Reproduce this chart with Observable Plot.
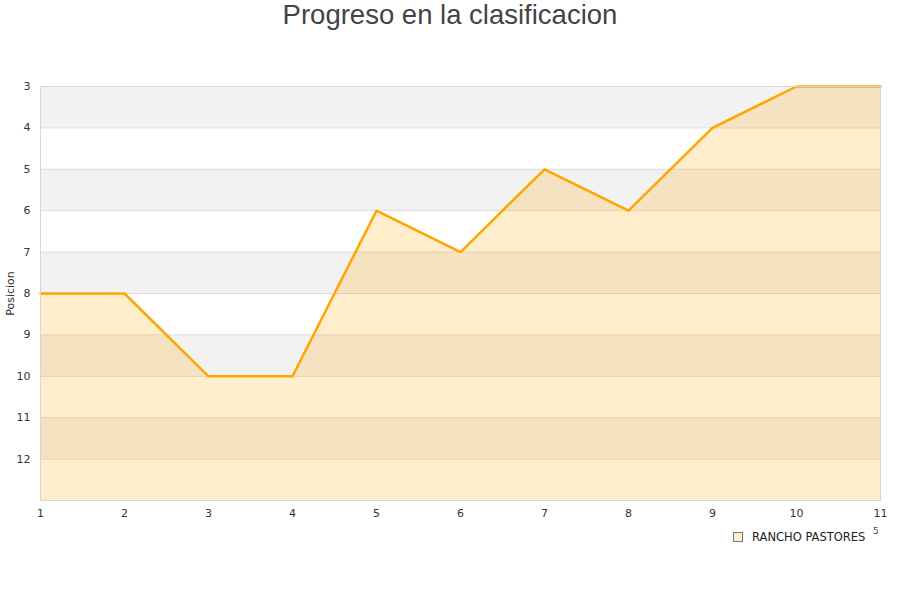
<!DOCTYPE html>
<html><head><meta charset="utf-8">
<script src="https://cdn.jsdelivr.net/npm/d3@7"></script>
<script src="https://cdn.jsdelivr.net/npm/@observablehq/plot@0.6"></script>
<style>
body{margin:0;background:#fff;font-family:"DejaVu Sans",sans-serif;}
#wrap{position:relative;width:900px;height:600px;}
#title{height:40px;line-height:30px;text-align:center;font-size:27.5px;color:#444;font-family:"Liberation Sans",Arial,sans-serif;}
#legend{position:absolute;left:733px;top:530px;font-size:11.5px;color:#222;display:flex;align-items:center;}
#legend .sw{width:8px;height:8px;border:1px solid #777;background:#FFEDCC;margin-right:9px;}
#stray{position:absolute;left:873px;top:526px;font-size:9px;color:#444;}
</style></head><body>
<div id="wrap">
<div id="title">Progreso en la clasificacion</div>
<div id="chart"></div>
<div id="legend"><div class="sw"></div><span>RANCHO PASTORES</span></div>
<div id="stray">5</div>
</div>
<script>
const jornadas = [1,2,3,4,5,6,7,8,9,10,11];
const posiciones = [8,8,10,10,6,7,5,6,4,3,3];
const yTicks = [3,4,5,6,7,8,9,10,11,12];
const gridLines = [3,4,5,6,7,8,9,10,11,12,13];
const bandStarts = [3,5,7,9,11];
const serie = "RANCHO PASTORES";

const data = jornadas.map((j,i)=>({j, p: posiciones[i]}));

const chart = Plot.plot({
  width: 900,
  height: 490,
  marginTop: 46,
  marginBottom: 30,
  marginLeft: 40,
  marginRight: 20,
  style: {fontFamily: "DejaVu Sans, sans-serif", fontSize: "11px", color: "#333"},
  x: {domain: [1,11], ticks: jornadas, tickFormat: d=>String(d)},
  y: {domain: [3,13], reverse: true, ticks: yTicks},
  marks: [
    Plot.rect(bandStarts, {x1: ()=>1, x2: ()=>11, y1: d=>d, y2: d=>d+1, fill: "#f2f2f2"}),
    Plot.ruleY(gridLines, {stroke: "#dddddd"}),
    Plot.areaY(data, {x: "j", y1: ()=>13, y2: "p", fill: "#FFA500", fillOpacity: 0.2}),
    Plot.line(data, {x: "j", y: "p", stroke: "#FFA500", strokeWidth: 2.5}),
    Plot.frame({stroke: "#d6d6d6"}),
    Plot.axisX({ticks: jornadas, tickSize: 0, tickPadding: 9, label: null, tickFormat: d=>String(d)}),
    Plot.axisY({ticks: yTicks, tickSize: 0, tickPadding: 10, label: "Posicion", labelAnchor: "center", labelArrow: "none", labelOffset: 34})
  ]
});
document.getElementById("chart").appendChild(chart);
</script>
</body></html>
